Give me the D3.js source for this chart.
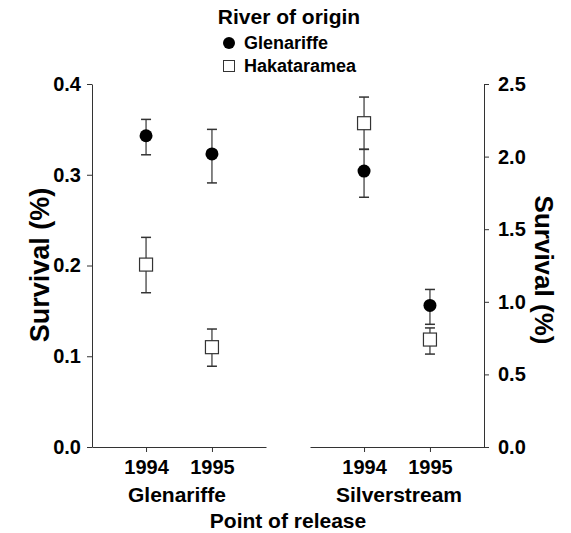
<!DOCTYPE html>
<html>
<head>
<meta charset="utf-8">
<script src="https://cdn.jsdelivr.net/npm/d3@7"></script>
<style>
  body { margin: 0; background: #fff; }
  text { font-family: "Liberation Sans", Arial, sans-serif; font-weight: bold; fill: #000; }
</style>
</head>
<body>
<div id="chart"></div>
<script>
// data
var years = ["1994", "1995"];
var sites = ["Glenariffe", "Silverstream"];
var origins = ["Glenariffe", "Hakataramea"];
var leftTicks = [0, 0.1, 0.2, 0.3, 0.4];
var rightTicks = [0, 0.5, 1.0, 1.5, 2.0, 2.5];

// Glenariffe release (left axis)
var glenGlen = [0.343, 0.323], glenGlenLo = [0.322, 0.291], glenGlenHi = [0.361, 0.350];
var hakaGlen = [0.201, 0.110], hakaGlenLo = [0.170, 0.089], hakaGlenHi = [0.231, 0.130];
// Silverstream release (right axis)
var glenSilv = [1.90, 0.975], glenSilvLo = [1.72, 0.845], glenSilvHi = [2.05, 1.085];
var hakaSilv = [2.23, 0.74], hakaSilvLo = [2.05, 0.64], hakaSilvHi = [2.41, 0.82];

var width = 571, height = 533;
var svg = d3.select("#chart").append("svg")
    .attr("width", width)
    .attr("height", height);

var yLeft = d3.scaleLinear().domain([0, 0.4]).range([447, 84]);
var yRight = d3.scaleLinear().domain([0, 2.5]).range([447, 84]);
var xLeft = d3.scalePoint().domain(years).range([92, 266]).padding(0.82);
var xRight = d3.scalePoint().domain(years).range([310, 484]).padding(0.82);

function styleAxis(g) {
    g.selectAll("path, line").attr("stroke", "#333").attr("stroke-width", 1);
    g.selectAll("text").attr("font-size", 20).attr("font-family", "Liberation Sans, Arial, sans-serif").attr("font-weight", "bold").attr("fill", "#000");
}

// y axes
svg.append("g").attr("transform", "translate(92,0)")
    .call(d3.axisLeft(yLeft).tickValues(leftTicks).tickFormat(d3.format(".1f")).tickSize(5).tickSizeOuter(0).tickPadding(6))
    .call(styleAxis);
svg.append("g").attr("transform", "translate(484,0)")
    .call(d3.axisRight(yRight).tickValues(rightTicks).tickFormat(d3.format(".1f")).tickSize(5).tickSizeOuter(0).tickPadding(9))
    .call(styleAxis);

// x axes (two panels)
svg.append("g").attr("transform", "translate(0,447)")
    .call(d3.axisBottom(xLeft).tickSize(5).tickSizeOuter(0).tickPadding(8))
    .call(styleAxis);
svg.append("g").attr("transform", "translate(0,447)")
    .call(d3.axisBottom(xRight).tickSize(5).tickSizeOuter(0).tickPadding(8))
    .call(styleAxis);

// panel labels
svg.append("text").attr("x", (xLeft("1994") + xLeft("1995")) / 2 - 2).attr("y", 502)
    .attr("text-anchor", "middle").attr("font-size", 21).text(sites[0]);
svg.append("text").attr("x", (xRight("1994") + xRight("1995")) / 2 + 2).attr("y", 502)
    .attr("text-anchor", "middle").attr("font-size", 21).text(sites[1]);
svg.append("text").attr("x", 288).attr("y", 528)
    .attr("text-anchor", "middle").attr("font-size", 21).text("Point of release");

// y titles
svg.append("text").attr("transform", "translate(49,265) rotate(-90)")
    .attr("text-anchor", "middle").attr("font-size", 27).text("Survival (%)");
svg.append("text").attr("transform", "translate(535,270) rotate(90)")
    .attr("text-anchor", "middle").attr("font-size", 26).text("Survival (%)");

// series
var series = [
    { x: xLeft, y: yLeft, v: hakaGlen, lo: hakaGlenLo, hi: hakaGlenHi, shape: "square" },
    { x: xLeft, y: yLeft, v: glenGlen, lo: glenGlenLo, hi: glenGlenHi, shape: "circle" },
    { x: xRight, y: yRight, v: hakaSilv, lo: hakaSilvLo, hi: hakaSilvHi, shape: "square" },
    { x: xRight, y: yRight, v: glenSilv, lo: glenSilvLo, hi: glenSilvHi, shape: "circle" }
];

series.forEach(function (s) {
    var pts = years.map(function (yr, i) {
        return { x: s.x(yr), v: s.y(s.v[i]), lo: s.y(s.lo[i]), hi: s.y(s.hi[i]) };
    });
    var g = svg.append("g");
    g.selectAll(".bar").data(pts).enter().append("line")
        .attr("x1", function (d) { return d.x; }).attr("x2", function (d) { return d.x; })
        .attr("y1", function (d) { return d.lo; }).attr("y2", function (d) { return d.hi; })
        .attr("stroke", "#333").attr("stroke-width", 1.2);
    ["lo", "hi"].forEach(function (k) {
        g.selectAll(".cap-" + k).data(pts).enter().append("line")
            .attr("x1", function (d) { return d.x - 5; }).attr("x2", function (d) { return d.x + 5; })
            .attr("y1", function (d) { return d[k]; }).attr("y2", function (d) { return d[k]; })
            .attr("stroke", "#333").attr("stroke-width", 1.5);
    });
    if (s.shape == "circle") {
        g.selectAll(".pt").data(pts).enter().append("circle")
            .attr("cx", function (d) { return d.x; }).attr("cy", function (d) { return d.v; })
            .attr("r", 6.5).attr("fill", "#000");
    } else {
        g.selectAll(".pt").data(pts).enter().append("rect")
            .attr("x", function (d) { return d.x - 6.5; }).attr("y", function (d) { return d.v - 6.5; })
            .attr("width", 13).attr("height", 13)
            .attr("fill", "#fff").attr("stroke", "#333").attr("stroke-width", 1.2);
    }
});

// legend
var legend = svg.append("g");
legend.append("text").attr("x", 289).attr("y", 24).attr("text-anchor", "middle")
    .attr("font-size", 21).text("River of origin");
legend.append("circle").attr("cx", 229).attr("cy", 43).attr("r", 6).attr("fill", "#000");
legend.append("text").attr("x", 244).attr("y", 49).attr("font-size", 18).text(origins[0]);
legend.append("rect").attr("x", 223.5).attr("y", 60.5).attr("width", 11).attr("height", 11)
    .attr("fill", "#fff").attr("stroke", "#333").attr("stroke-width", 1);
legend.append("text").attr("x", 244).attr("y", 72).attr("font-size", 18).text(origins[1]);
</script>
</body>
</html>
